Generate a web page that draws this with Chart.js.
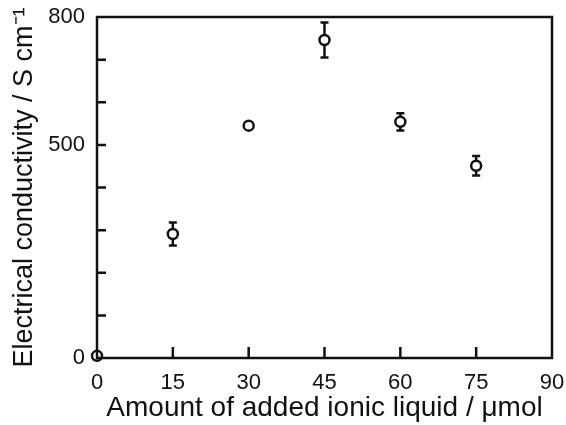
<!DOCTYPE html>
<html>
<head>
<meta charset="utf-8">
<script src="https://cdn.jsdelivr.net/npm/chart.js@4/dist/chart.umd.min.js"></script>
<style>
  html, body { margin: 0; padding: 0; background: #fff; }
  #wrap { width: 566px; height: 425px; }
</style>
</head>
<body>
<div id="wrap"><canvas id="myChart"></canvas></div>
<script>
// data
const amounts = [0, 15, 30, 45, 60, 75];
const conductivity = [5, 291, 545, 746, 554, 451];
const errors = [0, 27, 6, 41, 20, 23];

const xTicks = [0, 15, 30, 45, 60, 75, 90];
const yTicks = [0, 100, 200, 300, 400, 500, 600, 700, 800];
const yLabels = [0, 500, 800];

const ink = "#111";

// error bars, drawn under the open circles
const errorBars = {
  id: "errorBars",
  beforeDatasetsDraw(chart) {
    const ctx = chart.ctx;
    const xs = chart.scales.x, ys = chart.scales.y;
    ctx.save();
    ctx.strokeStyle = ink;
    ctx.lineWidth = 2.5;
    amounts.forEach((a, i) => {
      if (!errors[i]) return;
      const px = xs.getPixelForValue(a);
      const top = ys.getPixelForValue(conductivity[i] + errors[i]);
      const bot = ys.getPixelForValue(conductivity[i] - errors[i]);
      ctx.beginPath();
      ctx.moveTo(px, top); ctx.lineTo(px, bot);
      ctx.moveTo(px - 4, top); ctx.lineTo(px + 4, top);
      ctx.moveTo(px - 4, bot); ctx.lineTo(px + 4, bot);
      ctx.stroke();
    });
    ctx.restore();
  }
};

// box frame and inward ticks
const frame = {
  id: "frame",
  afterDraw(chart) {
    const ctx = chart.ctx;
    const a = chart.chartArea;
    const xs = chart.scales.x, ys = chart.scales.y;
    ctx.save();
    ctx.strokeStyle = ink;
    ctx.lineWidth = 2.5;
    ctx.beginPath();
    xTicks.slice(1, -1).forEach(v => {
      const px = xs.getPixelForValue(v);
      ctx.moveTo(px, a.bottom); ctx.lineTo(px, a.bottom - 11);
    });
    yTicks.slice(1, -1).forEach(v => {
      const py = ys.getPixelForValue(v);
      ctx.moveTo(a.left, py); ctx.lineTo(a.left + 9, py);
    });
    ctx.stroke();
    ctx.strokeRect(a.left, a.top, a.right - a.left, a.bottom - a.top);
    ctx.restore();
  }
};

const myChart = new Chart(document.getElementById("myChart"), {
  type: "scatter",
  data: {
    datasets: [{
      data: amounts.map((a, i) => ({ x: a, y: conductivity[i] })),
      pointStyle: "circle",
      pointRadius: 5,
      pointBorderWidth: 2.5,
      pointBackgroundColor: "#fff",
      pointBorderColor: ink,
      clip: false
    }]
  },
  options: {
    responsive: true,
    maintainAspectRatio: false,
    animation: false,
    layout: { padding: { top: 17, right: 14, left: 0, bottom: 0 } },
    plugins: { legend: { display: false }, tooltip: { enabled: false } },
    scales: {
      x: {
        type: "linear",
        min: 0, max: 90,
        afterBuildTicks(scale) { scale.ticks = xTicks.map(v => ({ value: v })); },
        afterFit(scale) {
          scale.height = 67;
          scale.paddingLeft = 0;
          scale.paddingRight = 0;
        },
        grid: { display: false, drawTicks: false },
        border: { display: false },
        ticks: { color: ink, padding: 12, font: { family: "Liberation Sans", size: 22 } },
        title: {
          display: true,
          text: "Amount of added ionic liquid / μmol",
          color: ink,
          padding: { top: 0, bottom: 0 },
          font: { family: "Liberation Sans", size: 28 }
        }
      },
      y: {
        type: "linear",
        min: 0, max: 800,
        afterBuildTicks(scale) { scale.ticks = yTicks.map(v => ({ value: v })); },
        afterFit(scale) {
          scale.width = 97;
          scale.paddingTop = 0;
          scale.paddingBottom = 0;
        },
        grid: { display: false, drawTicks: false },
        border: { display: false },
        ticks: {
          color: ink, padding: 12,
          font: { family: "Liberation Sans", size: 22 },
          callback: v => yLabels.includes(v) ? String(v) : ""
        },
        title: {
          display: true,
          text: "Electrical conductivity / S cm⁻¹",
          color: ink,
          padding: { top: 8, bottom: 0 },
          font: { family: "Liberation Sans", size: 27 }
        }
      }
    }
  },
  plugins: [errorBars, frame]
});
</script>
</body>
</html>
